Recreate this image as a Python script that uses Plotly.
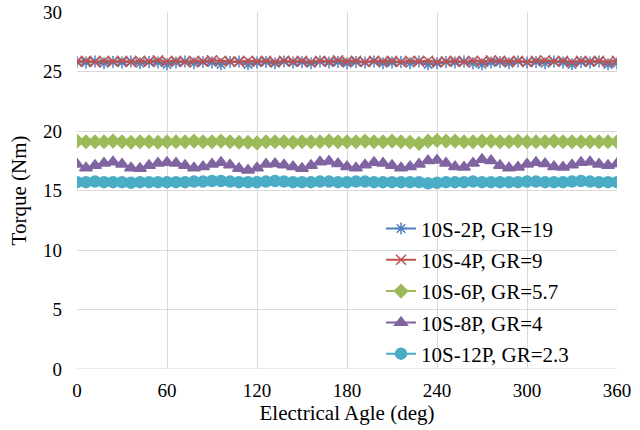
import plotly.graph_objects as go

angle = list(range(0, 361, 6))

s2p = [25.8, 25.75, 25.85, 25.7, 25.8, 25.75, 25.85, 25.7, 25.8, 25.75, 25.6,
       25.75, 25.85, 25.7, 25.8, 25.75, 25.6, 25.8, 25.85, 25.6, 25.75,
       25.8, 25.7, 25.85, 25.75, 25.8, 25.7, 25.85, 25.75, 25.8, 25.7,
       25.8, 25.75, 25.85, 25.7, 25.75, 25.8, 25.7, 25.85, 25.6, 25.7,
       25.8, 25.75, 25.85, 25.7, 25.6, 25.75, 25.8, 25.7, 25.85, 25.75,
       25.8, 25.7, 25.85, 25.75, 25.6, 25.8, 25.75, 25.85, 25.6, 25.7]
s4p = [25.85, 25.9, 25.8, 25.9, 25.85, 25.9, 25.8, 25.9, 25.85, 25.95, 25.85,
       25.9, 25.8, 25.9, 25.85, 25.95, 25.9, 25.85, 25.8, 25.9, 25.85,
       25.9, 25.8, 25.9, 25.85, 25.9, 25.8, 25.9, 25.85, 25.95, 25.85,
       25.9, 25.8, 25.9, 25.85, 25.9, 25.8, 25.9, 25.85, 25.9, 25.8,
       25.85, 25.9, 25.8, 25.9, 25.85, 25.95, 25.9, 25.85, 25.9, 25.8,
       25.9, 25.95, 25.85, 25.9, 25.8, 25.9, 25.85, 25.9, 25.8, 25.9]
s6p = [19.15, 19.1, 19.1, 19.1, 19.15, 19.1, 19.05, 19.1, 19.1, 19.05, 19.1,
       19.1, 19.1, 19.15, 19.1, 19.1, 19.15, 19.1, 19.05, 19.05, 19.0,
       19.1, 19.1, 19.1, 19.05, 19.1, 19.1, 19.1, 19.15, 19.1, 19.1,
       19.1, 19.15, 19.1, 19.1, 19.15, 19.1, 19.05, 18.95, 19.15, 19.2,
       19.15, 19.15, 19.1, 19.1, 19.15, 19.15, 19.1, 19.1, 19.15, 19.1,
       19.1, 19.1, 19.15, 19.1, 19.1, 19.1, 19.1, 19.1, 19.1, 19.1]
s8p = [17.2, 16.9, 17.1, 17.3, 17.4, 17.2, 16.9, 16.85, 17.1, 17.3, 17.35,
       17.3, 17.1, 16.9, 17.0, 17.2, 17.35, 17.15, 16.85, 16.7, 16.9,
       17.2, 17.25, 17.15, 17.0, 16.85, 17.1, 17.4, 17.45, 17.25, 17.0,
       16.9, 17.15, 17.35, 17.3, 17.1, 16.9, 17.0, 17.2, 17.5, 17.55,
       17.3, 17.0, 16.95, 17.3, 17.6, 17.5, 17.1, 16.9, 16.95, 17.2,
       17.35, 17.25, 17.0, 16.95, 17.15, 17.35, 17.4, 17.2, 17.1, 17.25]
s12p = [15.7, 15.7, 15.75, 15.7, 15.7, 15.7, 15.65, 15.7, 15.7, 15.7, 15.7,
        15.7, 15.7, 15.75, 15.75, 15.8, 15.8, 15.75, 15.7, 15.7, 15.7,
        15.75, 15.8, 15.75, 15.7, 15.7, 15.7, 15.75, 15.75, 15.7, 15.7,
        15.75, 15.75, 15.7, 15.7, 15.7, 15.7, 15.7, 15.7, 15.6, 15.65,
        15.7, 15.7, 15.7, 15.75, 15.7, 15.7, 15.7, 15.7, 15.7, 15.75,
        15.75, 15.7, 15.7, 15.7, 15.75, 15.8, 15.75, 15.7, 15.7, 15.7]

names = ["10S-2P, GR=19", "10S-4P, GR=9", "10S-6P, GR=5.7", "10S-8P, GR=4", "10S-12P, GR=2.3"]
x_ticks = [0, 60, 120, 180, 240, 300, 360]
y_ticks = [0, 5, 10, 15, 20, 25, 30]

series = [s2p, s4p, s6p, s8p, s12p]
colors = ["#4F81BD", "#C0504D", "#9BBB59", "#8064A2", "#4BACC6"]
symbols = ["asterisk-open", "x-thin-open", "diamond", "triangle-up", "circle"]
sizes = [10, 10, 10, 11, 11]

fig = go.Figure()
for i, (ys, nm) in enumerate(zip(series, names)):
    fig.add_trace(go.Scatter(
        x=angle, y=ys, name=nm, mode="lines+markers",
        legendgroup=f"g{i}",
        line=dict(color=colors[i], width=2),
        marker=dict(symbol=symbols[i], size=sizes[i], color=colors[i],
                    line=dict(color=colors[i], width=1.5)),
    ))

font = "Liberation Serif"
fig.update_layout(
    width=640, height=430,
    margin=dict(l=77, r=23, t=12, b=61, autoexpand=False),
    plot_bgcolor="white", paper_bgcolor="white",
    font=dict(family=font, size=19, color="#000"),
    legend=dict(x=0.563, y=0.45, xanchor="left", yanchor="top",
                font=dict(family=font, size=21), tracegroupgap=1,
                bgcolor="rgba(255,255,255,0)"),
    xaxis=dict(range=[0, 360], tickvals=x_ticks, showgrid=True,
               gridcolor="#d9d9d9", gridwidth=1, zeroline=False,
               showline=False, ticks="", ticklabelstandoff=8, automargin=False,
               tickfont=dict(family=font, size=19),
               title=dict(text="Electrical Agle (deg)", standoff=0,
                          font=dict(family=font, size=21))),
    yaxis=dict(range=[0, 30], tickvals=y_ticks, showgrid=True,
               gridcolor="#d9d9d9", gridwidth=1, zeroline=False,
               showline=False, ticks="", ticklabelstandoff=14, automargin=False,
               tickfont=dict(family=font, size=19),
               title=dict(text="Torque (Nm)", standoff=10,
                          font=dict(family=font, size=21))),
)
fig.add_shape(type="line", xref="x", yref="y", x0=0, x1=360, y0=0, y1=0,
              line=dict(color="#d9d9d9", width=1), layer="below")

fig.write_html("out.html", config={"displayModeBar": False},
               post_script="document.body.style.margin='0';")
